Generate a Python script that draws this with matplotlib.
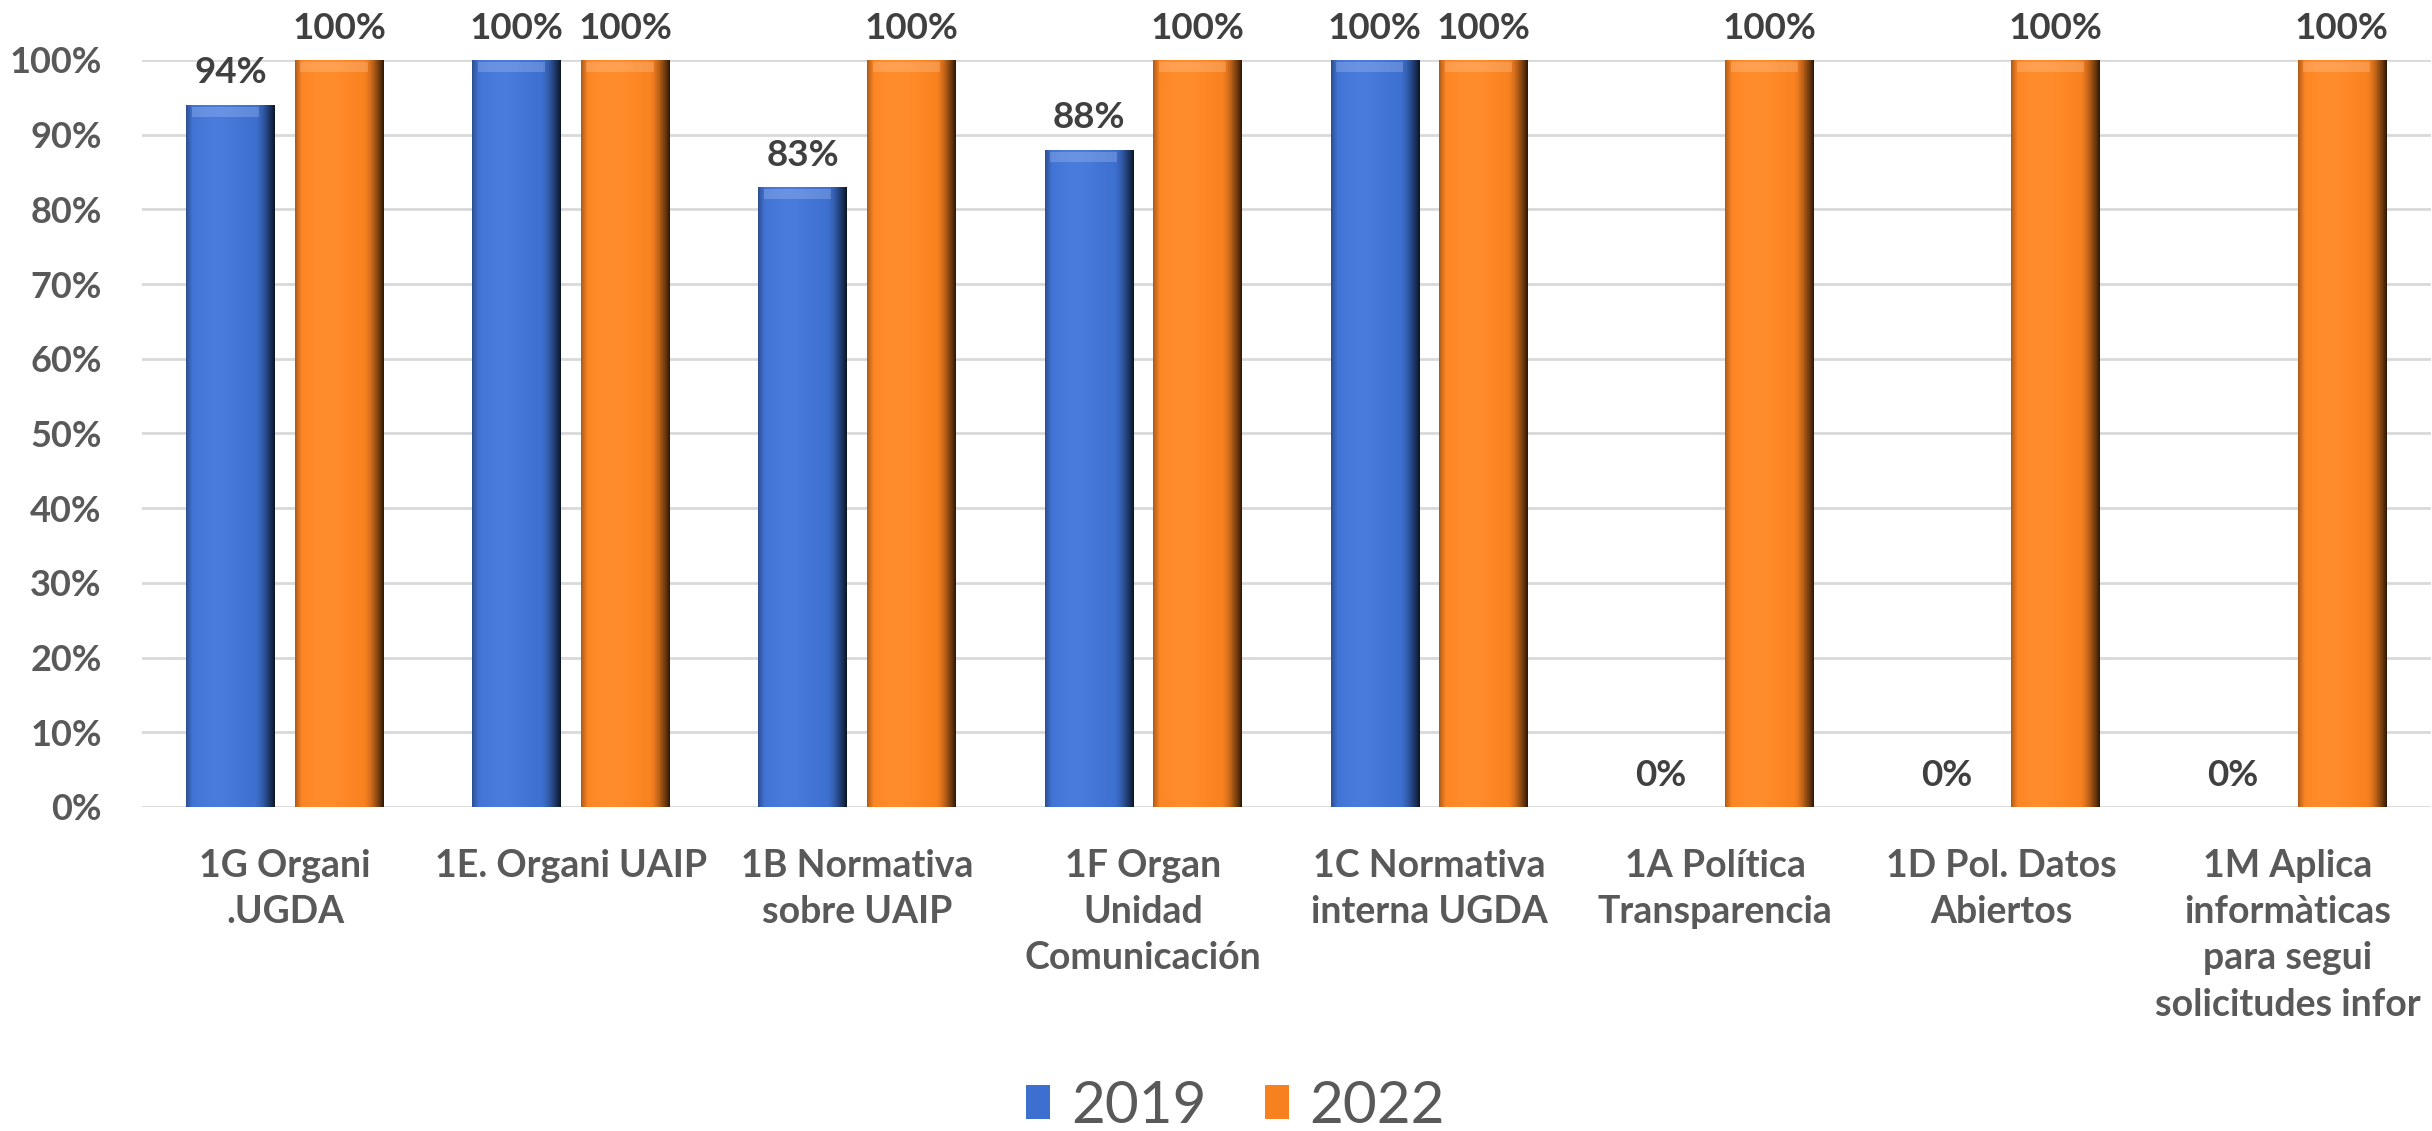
import numpy as np
import matplotlib
matplotlib.use('Agg')
import matplotlib.pyplot as plt
from matplotlib.colors import to_rgb

# Datos del gráfico
categorias = ['1G Organi\n.UGDA', '1E. Organi UAIP', '1B Normativa\nsobre UAIP',
              '1F Organ\nUnidad\nComunicación', '1C Normativa\ninterna UGDA',
              '1A Política\nTransparencia', '1D Pol. Datos\nAbiertos',
              '1M Aplica\ninformàticas\npara segui\nsolicitudes infor']
valores_2019 = [94, 100, 83, 88, 100, 0, 0, 0]
valores_2022 = [100, 100, 100, 100, 100, 100, 100, 100]
series = ['2019', '2022']
yticks = list(range(0, 101, 10))

azul = '#3D6FD0'
naranja = '#F7801F'
gris = '#595959'

plt.rcParams['font.family'] = ['Lato', 'DejaVu Sans']

fig = plt.figure(figsize=(24.32, 11.31), dpi=100)
ax = fig.add_axes([0.0584, 0.2865, 0.941, 0.6605])

x = np.arange(len(categorias))
ancho = 0.31
desp = 0.19

b1 = ax.bar(x - desp, valores_2019, ancho, color=azul, label=series[0], zorder=2)
b2 = ax.bar(x + desp, valores_2022, ancho, color=naranja, label=series[1], zorder=2)


def degradado(barras, color):
    # sombreado tipo bisel: bordes oscuros, centro algo más claro
    r, g, b = to_rgb(color)
    pos = np.linspace(0, 1, 80)
    oscuro = np.clip((pos - 0.78) / 0.22, 0, 1) ** 1.5 * 0.8 + np.clip((0.07 - pos) / 0.07, 0, 1) * 0.3
    claro = np.exp(-((pos - 0.35) / 0.3) ** 2) * 0.05
    rgba = np.zeros((1, len(pos), 4))
    rgba[0, :, 0] = r
    rgba[0, :, 1] = g
    rgba[0, :, 2] = b
    for i in range(3):
        rgba[0, :, i] = np.clip(rgba[0, :, i] * (1 - oscuro) + claro, 0, 1)
    rgba[0, :, 3] = 1
    for barra in barras:
        h = barra.get_height()
        if h <= 0:
            continue
        x0 = barra.get_x()
        w = barra.get_width()
        im = ax.imshow(rgba, extent=(x0, x0 + w, 0, h), aspect='auto', zorder=3)
        im.set_clip_path(barra)
        # banda clara superior (bisel)
        ax.fill_between([x0 + w * 0.06, x0 + w * 0.82], h - 1.6, h - 0.3,
                        color='white', alpha=0.18, zorder=4, linewidth=0)


degradado(b1, azul)
degradado(b2, naranja)

for cont, vals in [(b1, valores_2019), (b2, valores_2022)]:
    ax.bar_label(cont, labels=[f'{v}%' for v in vals], padding=11,
                 fontsize=26.5, fontweight='bold', color='#404040')

ax.set_xlim(-0.5, len(categorias) - 0.5)
ax.set_ylim(0, 100)
ax.set_yticks(yticks)
ax.set_yticklabels([f'{t}%' for t in yticks])
ax.set_xticks(x)
ax.set_xticklabels(categorias, linespacing=1.44)

ax.tick_params(axis='both', length=0, labelsize=26, labelcolor=gris)
ax.tick_params(axis='x', labelsize=27, pad=30)
ax.tick_params(axis='y', pad=29)
for lab in ax.get_xticklabels() + ax.get_yticklabels():
    lab.set_fontweight('bold')

ax.grid(axis='y', color='#D9D9D9', linewidth=2, zorder=0)
ax.set_axisbelow(True)
for s in ax.spines.values():
    s.set_visible(False)

leg = fig.legend(handles=[b1, b2], labels=series, loc='center', bbox_to_anchor=(0.508, 0.022),
                 ncol=2, frameon=False, fontsize=42, handlelength=0.42, handleheight=0.5,
                 handletextpad=0.35, columnspacing=1.0, labelcolor=gris)

fig.savefig('out.png', dpi=100)
